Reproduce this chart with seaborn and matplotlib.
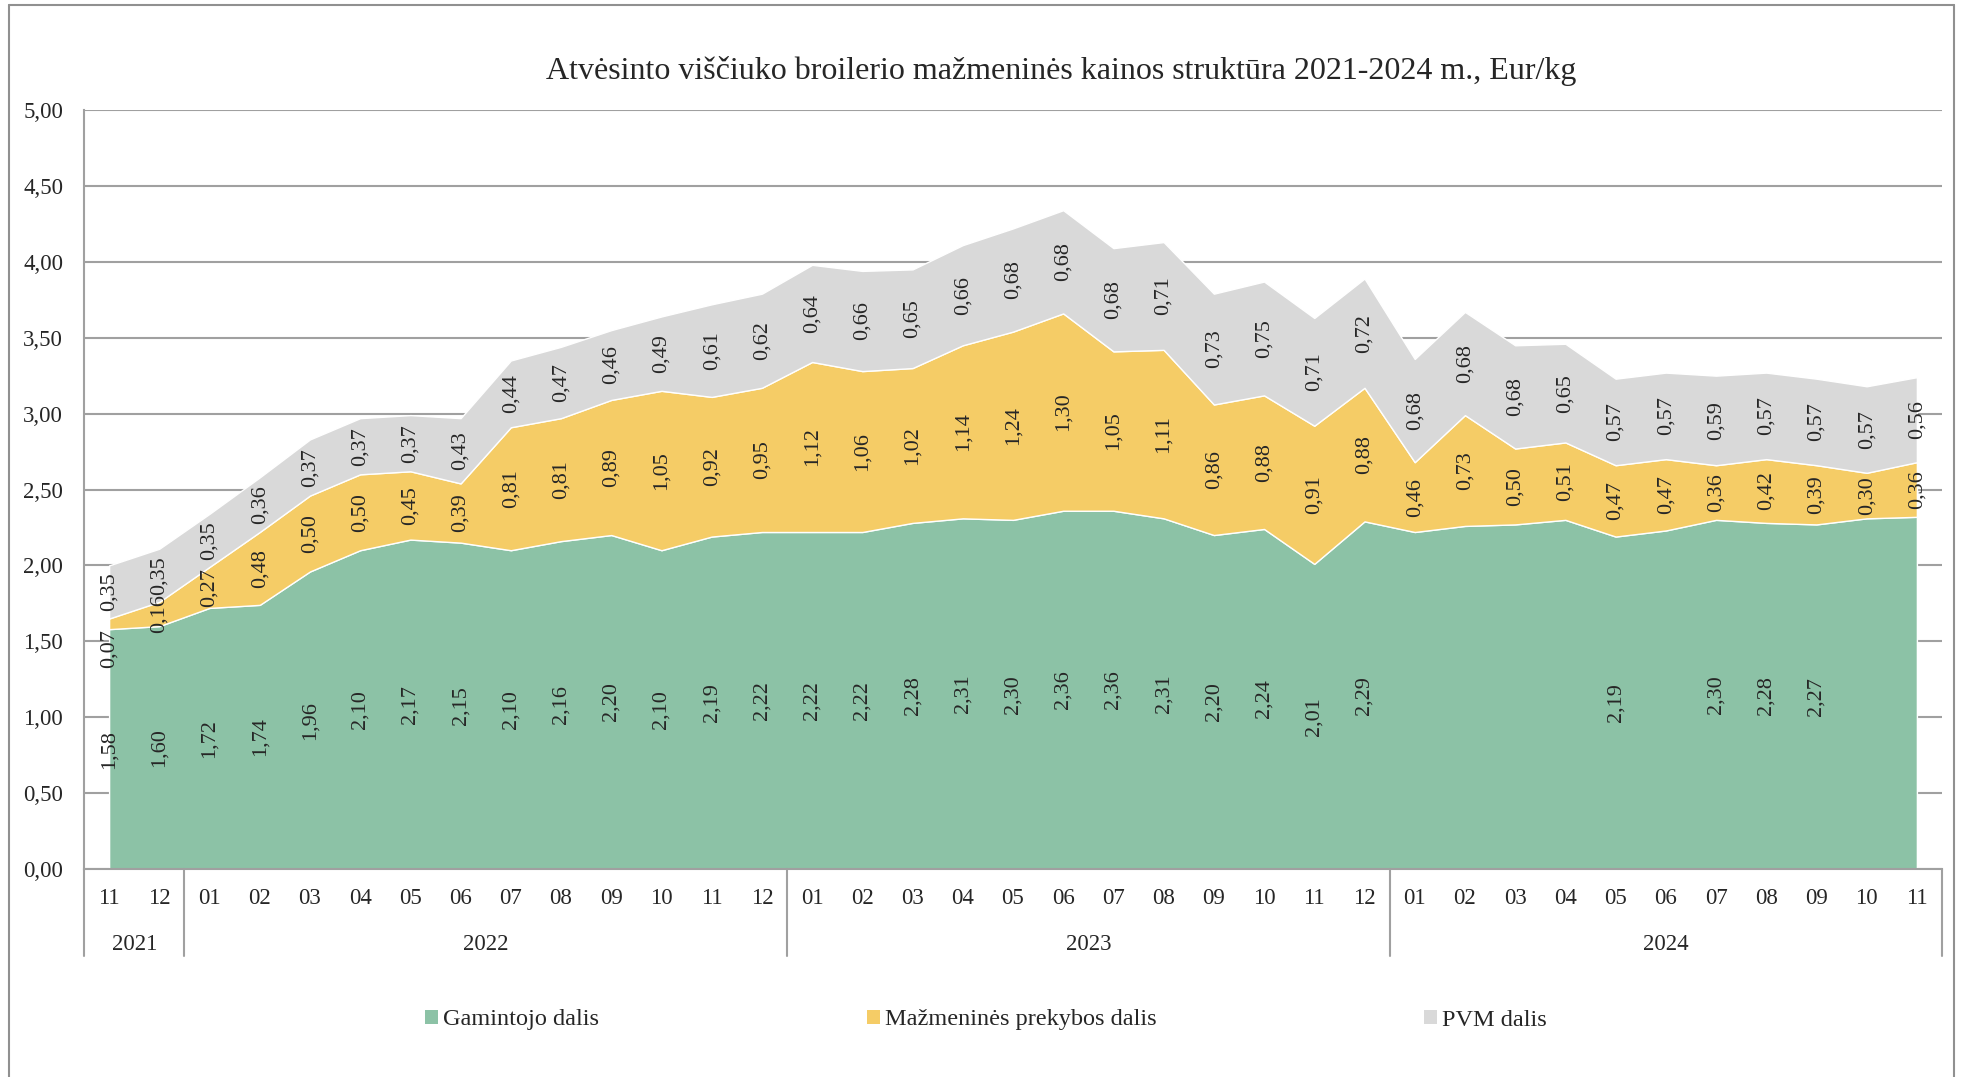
import matplotlib
matplotlib.use("Agg")
import matplotlib.pyplot as plt
from matplotlib.lines import Line2D
from matplotlib.patches import Patch
import seaborn as sns
import numpy as np

# data (Eur/kg)
years = ["2021", "2022", "2023", "2024"]
year_months = [
    ["11", "12"],
    ["01", "02", "03", "04", "05", "06", "07", "08", "09", "10", "11", "12"],
    ["01", "02", "03", "04", "05", "06", "07", "08", "09", "10", "11", "12"],
    ["01", "02", "03", "04", "05", "06", "07", "08", "09", "10", "11"],
]
gamintojo = [1.58, 1.60,
             1.72, 1.74, 1.96, 2.10, 2.17, 2.15, 2.10, 2.16, 2.20, 2.10, 2.19, 2.22,
             2.22, 2.22, 2.28, 2.31, 2.30, 2.36, 2.36, 2.31, 2.20, 2.24, 2.01, 2.29,
             2.22, 2.26, 2.27, 2.30, 2.19, 2.23, 2.30, 2.28, 2.27, 2.31, 2.32]
# the reference leaves some producer labels out (2024)
gamintojo_shown = [True] * 26 + [False, False, False, False, True, False,
                                 True, True, True, False, False]
mazmenines = [0.07, 0.16,
              0.27, 0.48, 0.50, 0.50, 0.45, 0.39, 0.81, 0.81, 0.89, 1.05, 0.92, 0.95,
              1.12, 1.06, 1.02, 1.14, 1.24, 1.30, 1.05, 1.11, 0.86, 0.88, 0.91, 0.88,
              0.46, 0.73, 0.50, 0.51, 0.47, 0.47, 0.36, 0.42, 0.39, 0.30, 0.36]
pvm = [0.35, 0.35,
       0.35, 0.36, 0.37, 0.37, 0.37, 0.43, 0.44, 0.47, 0.46, 0.49, 0.61, 0.62,
       0.64, 0.66, 0.65, 0.66, 0.68, 0.68, 0.68, 0.71, 0.73, 0.75, 0.71, 0.72,
       0.68, 0.68, 0.68, 0.65, 0.57, 0.57, 0.59, 0.57, 0.57, 0.57, 0.56]
series_names = ["Gamintojo dalis", "Mažmeninės prekybos dalis", "PVM dalis"]
colors = ["#8cc2a6", "#f5cc66", "#d9d9d9"]
title = "Atvėsinto viščiuko broilerio mažmeninės kainos struktūra 2021-2024 m., Eur/kg"

sns.set_theme(style="white")
plt.rcParams["font.family"] = ["Liberation Serif", "DejaVu Serif"]

def fmt(v):
    return f"{v:.2f}".replace(".", ",")

months = [m for ms in year_months for m in ms]
x = np.arange(len(months))

fig = plt.figure(figsize=(19.61, 10.77), dpi=100)
ax = fig.add_axes([84 / 1961, 1 - 869 / 1077, (1942 - 84) / 1961, (869 - 110) / 1077])

ax.stackplot(x, gamintojo, mazmenines, pvm, colors=colors, labels=series_names, zorder=2)

ax.set_xlim(-0.5, len(months) - 0.5)
ax.set_ylim(0, 5)
ax.set_yticks(np.arange(0, 5.01, 0.5))
ax.set_yticklabels([fmt(v) for v in np.arange(0, 5.01, 0.5)])
ax.yaxis.grid(True, color="#a0a0a0", linewidth=1.5, zorder=0)
ax.set_axisbelow(True)
ax.tick_params(axis="y", length=0, pad=15, labelsize=16.5)
ax.set_xticks(x)
ax.set_xticklabels(months)
ax.tick_params(axis="x", length=0, pad=14, labelsize=16.5)
for s in ["top", "right"]:
    ax.spines[s].set_visible(False)
for s in ["left", "bottom"]:
    ax.spines[s].set_color("#a0a0a0")
    ax.spines[s].set_linewidth(1.5)

# data labels, centred in each band (very thin bands: label hangs below)
bottom = np.zeros(len(months))
for vals, shown in [(gamintojo, gamintojo_shown), (mazmenines, None), (pvm, None)]:
    for i, v in enumerate(vals):
        if shown is None or shown[i]:
            if v < 0.1:
                ax.text(i, bottom[i], fmt(v), rotation=90, ha="center",
                        va="top", fontsize=16, zorder=5)
            else:
                ax.text(i, bottom[i] + v / 2, fmt(v), rotation=90, ha="center",
                        va="center", fontsize=16, zorder=5)
    bottom += np.array(vals)

# two-level category axis: year labels and separators
trans = ax.get_xaxis_transform()
start = 0
seps = [-0.5]
for yr, ms in zip(years, year_months):
    end = start + len(ms)
    ax.text((start + end - 1) / 2, -0.099, yr, transform=trans, ha="center",
            va="center", fontsize=16.5)
    seps.append(end - 0.5)
    start = end
for sx in seps:
    ax.plot([sx, sx], [0, -0.115], transform=trans, color="#a0a0a0",
            linewidth=1.5, clip_on=False)

handles = [Patch(facecolor=c, edgecolor="none") for c in colors]
fig.legend(handles, series_names, loc="center", bbox_to_anchor=(986 / 1961, 1 - 1020 / 1077),
           ncol=3, frameon=False, columnspacing=11, handlelength=0.55, handleheight=0.55,
           handletextpad=0.2, fontsize=17.5)

fig.text(1061 / 1961, 1 - 71 / 1077, title, ha="center", va="center", fontsize=23)

# chart border
bx0, bx1, by1 = 9 / 1961, 1954 / 1961, 1 - 5 / 1077
for xs, ys in [([bx0, bx0], [0, by1]), ([bx0, bx1], [by1, by1]), ([bx1, bx1], [by1, 0])]:
    fig.add_artist(Line2D(xs, ys, transform=fig.transFigure, color="#909090", linewidth=1.5))

fig.savefig("out.png", dpi=100)
